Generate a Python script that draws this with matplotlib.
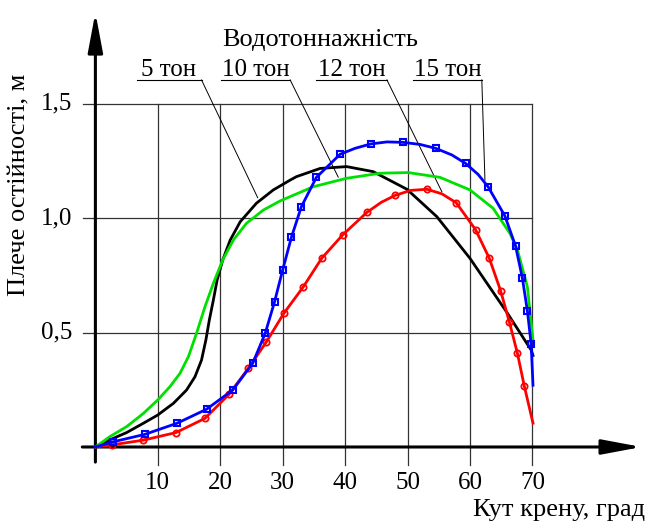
import matplotlib
matplotlib.use("Agg")
from matplotlib import pyplot as plt

plt.rcParams['font.family'] = ['Liberation Serif', 'DejaVu Serif']

# крива 5 тон (чорна)
x5 = [0, 2.3, 5.0, 7.7, 10.0, 12.5, 14.6, 15.95, 17.0, 17.7, 18.25, 18.9, 19.5, 20.4, 21.6, 23.2,
      25.8, 28.5, 31.2, 32.2, 36.0, 40.25, 44.5, 49.9, 54.7, 60.0, 66.0, 69.8, 70.1]
y5 = [0, 0.031, 0.063, 0.104, 0.14, 0.191, 0.249, 0.307, 0.38, 0.468, 0.555, 0.643, 0.73, 0.818, 0.905, 0.985,
      1.066, 1.124, 1.167, 1.182, 1.218, 1.226, 1.204, 1.127, 1.007, 0.825, 0.585, 0.424, 0.40]

# 10 тон (зелена)
x10 = [0, 2.3, 5.0, 7.7, 10.0, 11.95, 13.55, 14.9, 16.2, 17.55, 18.9, 20.4, 22.1, 24.2, 26.9,
       29.6, 34.9, 40.25, 45.6, 50.1, 55.2, 60.0, 63.7, 66.4, 67.6, 69.2, 70.1]
y10 = [0, 0.045, 0.089, 0.147, 0.206, 0.264, 0.322, 0.395, 0.497, 0.613, 0.716, 0.818, 0.905, 0.978, 1.036,
       1.076, 1.138, 1.175, 1.197, 1.2, 1.179, 1.124, 1.044, 0.934, 0.862, 0.70, 0.468]

# 12 тон (червона): лінія та маркери
x12 = [0, 2.6, 7.7, 12.9, 17.55, 21.4, 24.5, 27.4, 30.2, 33.3, 36.25, 39.6, 43.5, 45.8, 48.0,
       50.5, 53.1, 55.5, 57.8, 60.9, 63.1, 64.9, 66.3, 67.6, 68.7, 70.1]
y12 = [0, 0.009, 0.03, 0.063, 0.125, 0.23, 0.344, 0.46, 0.585, 0.70, 0.825, 0.927, 1.026, 1.07, 1.10,
       1.122, 1.127, 1.107, 1.068, 0.95, 0.825, 0.684, 0.548, 0.41, 0.267, 0.104]
m12x = [2.6, 7.7, 12.9, 17.55, 21.4, 24.5, 27.4, 30.2, 33.3, 36.25, 39.6, 43.5, 48.0, 53.1,
        57.8, 60.9, 63.1, 64.9, 66.3, 67.6, 68.7]
m12y = [0.009, 0.03, 0.063, 0.125, 0.23, 0.344, 0.46, 0.585, 0.70, 0.825, 0.927, 1.026, 1.10, 1.127,
        1.068, 0.95, 0.825, 0.684, 0.548, 0.41, 0.267]

# 15 тон (синя): лінія та маркери
x15 = [0, 2.9, 7.9, 13.1, 17.8, 22.0, 25.2, 27.2, 28.7, 30.0, 31.4, 33.0, 35.4, 39.2, 41.6, 44.1,
       46.7, 49.3, 52.0, 54.5, 57.1, 59.3, 61.3, 62.9, 65.6, 67.3, 68.4, 69.2, 69.8, 70.1]
y15 = [0, 0.023, 0.055, 0.104, 0.165, 0.249, 0.366, 0.497, 0.635, 0.774, 0.917, 1.051, 1.179, 1.28, 1.306, 1.325,
       1.334, 1.332, 1.323, 1.306, 1.277, 1.24, 1.192, 1.138, 1.01, 0.879, 0.738, 0.595, 0.451, 0.27]
m15x = [2.9, 7.9, 13.1, 17.8, 22.0, 25.2, 27.2, 28.7, 30.0, 31.4, 33.0, 35.4, 39.2, 44.1,
        49.3, 54.5, 59.3, 62.9, 65.6, 67.3, 68.4, 69.2, 69.8]
m15y = [0.023, 0.055, 0.104, 0.165, 0.249, 0.366, 0.497, 0.635, 0.774, 0.917, 1.051, 1.179, 1.28, 1.325,
        1.332, 1.306, 1.24, 1.138, 1.01, 0.879, 0.738, 0.595, 0.451]

xticks = [10, 20, 30, 40, 50, 60, 70]
yticks = [0.5, 1.0, 1.5]
yticklabels = ['0,5', '1,0', '1,5']

labels = ['5 тон', '10 тон', '12 тон', '15 тон']
lab_x = [(6.6, 17.0), (20.2, 31.2), (35.4, 46.7), (50.9, 61.9)]
lab_end = [(26.0, 1.09), (38.9, 1.18), (55.5, 1.116), (62.4, 1.167)]

fig = plt.figure(figsize=(6.49, 5.22), dpi=100)
ax = fig.add_axes([0, 0, 1, 1])
ax.set_xlim(-15.28, 88.68)
ax.set_ylim(-0.328, 1.9545)
ax.axis('off')

# сітка
for xt in xticks:
    ax.plot([xt, xt], [-0.08, 1.5], color='#333333', lw=0.9, zorder=1)
for yt in yticks:
    ax.plot([-2.0, 70], [yt, yt], color='#333333', lw=0.9, zorder=1)

# осі зі стрілками
arrow = dict(arrowstyle='-|>,head_length=2.4,head_width=0.45', color='black', lw=2.2,
             shrinkA=0, shrinkB=0)
ax.annotate('', xy=(87.5, 0), xytext=(-2.1, 0), arrowprops=arrow)
ax.annotate('', xy=(0, 1.90), xytext=(0, -0.066), arrowprops=arrow)

for xt in xticks:
    ax.text(xt, -0.157, str(xt), ha='center', va='center', fontsize=18)
for yt, lab in zip(yticks, yticklabels):
    ax.text(-3.75, yt, lab, ha='right', va='center', fontsize=18)

ax.text(-12.1, 1.146, 'Плече остійності, м', rotation=90, ha='center', va='center', fontsize=19)
ax.text(88.0, -0.275, 'Кут крену, град', ha='right', va='center', fontsize=19)

# криві
ax.plot(x5, y5, color='black', lw=2.0, zorder=3)
ax.plot(x10, y10, color='#00e000', lw=2.0, zorder=3)
ax.plot(x12, y12, color='red', lw=2.0, zorder=4)
ax.plot(m12x, m12y, ls='none', marker='o', ms=4.5, mfc='none', mec='red', mew=1.3, zorder=4)
ax.plot(x15, y15, color='blue', lw=2.0, zorder=5)
ax.plot(m15x, m15y, ls='none', marker='s', ms=4.5, mfc='none', mec='blue', mew=1.5, zorder=5)

# підписи
ax.text(36.0, 1.78, 'Водотоннажність', ha='center', va='center', fontsize=19)
for lab, (xa, xb), (xe, ye) in zip(labels, lab_x, lab_end):
    ax.plot([xa, xb], [1.605, 1.605], color='black', lw=0.8, zorder=2)
    ax.plot([xb, xe], [1.605, ye], color='black', lw=0.7, zorder=2)
    ax.text((xa + xb) / 2, 1.65, lab, ha='center', va='center', fontsize=18)

fig.savefig('out.png', dpi=100)
